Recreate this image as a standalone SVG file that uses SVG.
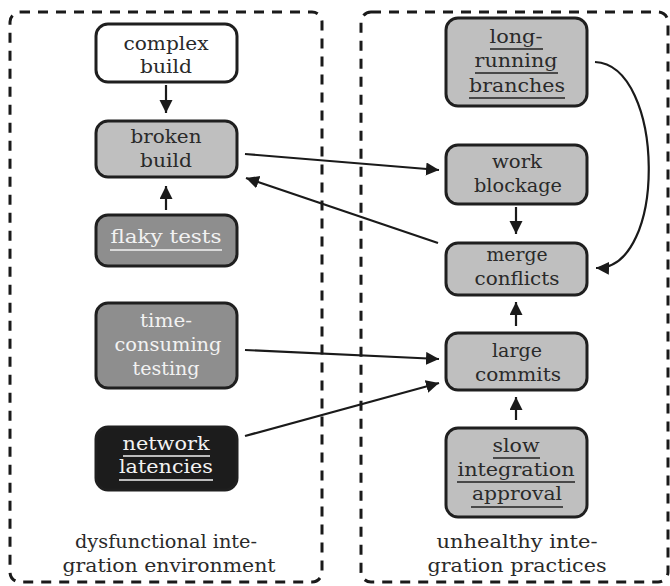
<svg xmlns="http://www.w3.org/2000/svg" width="670" height="586" viewBox="0 0 670 586">
<defs>
<marker id="ah" markerUnits="userSpaceOnUse" markerWidth="15" markerHeight="14" refX="13" refY="6.5" orient="auto"><path d="M0,0 L13,6.5 L0,13 z" fill="#1a1a1a"/></marker>
<style>
.box{fill:none;stroke:#1a1a1a;stroke-width:3;stroke-dasharray:10 8}
.n{stroke:#1f1f1f;stroke-width:3}
.lt{fill:#bfbfbf}.md{fill:#8e8e8e}.dk{fill:#1c1c1c}.wh{fill:#ffffff}
text{font-family:"DejaVu Serif",serif;font-size:19px;text-anchor:middle}
.tb{fill:#2a2a2a}.tw{fill:#f2f2f2}
.ub{stroke:#222;stroke-width:1.5}.uw{stroke:#f2f2f2;stroke-width:1.5}
.c{fill:none;stroke:#1a1a1a;stroke-width:2.2;marker-end:url(#ah)}
</style>
</defs>
<g id="env">
<rect class="box" x="10" y="12" width="312" height="570" rx="10"/>
<text class="tb" x="166" y="548" textLength="182" lengthAdjust="spacingAndGlyphs">dysfunctional inte-</text>
<text class="tb" x="169" y="572" textLength="213" lengthAdjust="spacingAndGlyphs">gration environment</text>
</g>
<g id="practices">
<rect class="box" x="361" y="12" width="307" height="570" rx="10"/>
<text class="tb" x="517" y="548" textLength="161" lengthAdjust="spacingAndGlyphs">unhealthy inte-</text>
<text class="tb" x="517" y="572" textLength="179" lengthAdjust="spacingAndGlyphs">gration practices</text>
</g>
<g id="complex">
<rect class="n wh" x="96" y="24" width="141" height="58" rx="12"/>
<text class="tb" x="166" y="50" textLength="85" lengthAdjust="spacingAndGlyphs">complex</text>
<text class="tb" x="166" y="73" textLength="52" lengthAdjust="spacingAndGlyphs">build</text>
</g>
<g id="broken">
<rect class="n lt" x="96" y="121" width="141" height="56" rx="12"/>
<text class="tb" x="166" y="143" textLength="71" lengthAdjust="spacingAndGlyphs">broken</text>
<text class="tb" x="166" y="167" textLength="52" lengthAdjust="spacingAndGlyphs">build</text>
</g>
<g id="flaky">
<rect class="n md" x="96" y="215" width="141" height="51" rx="12"/>
<text class="tw" x="166" y="243" textLength="111" lengthAdjust="spacingAndGlyphs">flaky tests</text>
<line class="uw" x1="110" y1="250" x2="222" y2="250"/>
</g>
<g id="timeconsuming">
<rect class="n md" x="96" y="303" width="141" height="85" rx="12"/>
<text class="tw" x="166" y="327" textLength="52" lengthAdjust="spacingAndGlyphs">time-</text>
<text class="tw" x="168" y="351" textLength="107" lengthAdjust="spacingAndGlyphs">consuming</text>
<text class="tw" x="166" y="375" textLength="67" lengthAdjust="spacingAndGlyphs">testing</text>
</g>
<g id="network">
<rect class="n dk" x="96" y="427" width="141" height="63" rx="12"/>
<text class="tw" x="166" y="450" textLength="87" lengthAdjust="spacingAndGlyphs">network</text>
<line class="uw" x1="123" y1="456" x2="210" y2="456"/>
<text class="tw" x="166" y="473" textLength="94" lengthAdjust="spacingAndGlyphs">latencies</text>
<line class="uw" x1="119" y1="480" x2="213" y2="480"/>
</g>
<g id="longrunning">
<rect class="n lt" x="446" y="18" width="141" height="88" rx="12"/>
<text class="tb" x="516" y="43" textLength="53" lengthAdjust="spacingAndGlyphs">long-</text>
<line class="ub" x1="490" y1="49" x2="543" y2="49"/>
<text class="tb" x="516" y="67" textLength="83" lengthAdjust="spacingAndGlyphs">running</text>
<line class="ub" x1="475" y1="73" x2="558" y2="73"/>
<text class="tb" x="517" y="92" textLength="96" lengthAdjust="spacingAndGlyphs">branches</text>
<line class="ub" x1="469" y1="98" x2="565" y2="98"/>
</g>
<g id="workblockage">
<rect class="n lt" x="446" y="145" width="141" height="59" rx="12"/>
<text class="tb" x="517" y="168" textLength="50" lengthAdjust="spacingAndGlyphs">work</text>
<text class="tb" x="518" y="192" textLength="88" lengthAdjust="spacingAndGlyphs">blockage</text>
</g>
<g id="merge">
<rect class="n lt" x="446" y="243" width="141" height="52" rx="12"/>
<text class="tb" x="517" y="261" textLength="61" lengthAdjust="spacingAndGlyphs">merge</text>
<text class="tb" x="517" y="285" textLength="85" lengthAdjust="spacingAndGlyphs">conflicts</text>
</g>
<g id="large">
<rect class="n lt" x="446" y="333" width="141" height="57" rx="12"/>
<text class="tb" x="517" y="357" textLength="50" lengthAdjust="spacingAndGlyphs">large</text>
<text class="tb" x="518" y="381" textLength="86" lengthAdjust="spacingAndGlyphs">commits</text>
</g>
<g id="slow">
<rect class="n lt" x="446" y="428" width="141" height="89" rx="12"/>
<text class="tb" x="516" y="452" textLength="47" lengthAdjust="spacingAndGlyphs">slow</text>
<line class="ub" x1="493" y1="458" x2="540" y2="458"/>
<text class="tb" x="516" y="476" textLength="117" lengthAdjust="spacingAndGlyphs">integration</text>
<line class="ub" x1="457" y1="482" x2="575" y2="482"/>
<text class="tb" x="517" y="500" textLength="90" lengthAdjust="spacingAndGlyphs">approval</text>
<line class="ub" x1="471" y1="507" x2="563" y2="507"/>
</g>
<g id="connectors">
<line class="c" x1="166" y1="85" x2="166" y2="113"/>
<line class="c" x1="166" y1="210" x2="166" y2="186"/>
<line class="c" x1="245" y1="154" x2="439" y2="170"/>
<line class="c" x1="438" y1="243" x2="246" y2="178"/>
<line class="c" x1="516" y1="207" x2="516" y2="234"/>
<path class="c" d="M595,62 C665,65 668,270 596,268"/>
<line class="c" x1="245" y1="350" x2="439" y2="359"/>
<line class="c" x1="245" y1="436" x2="439" y2="383"/>
<line class="c" x1="516" y1="326" x2="516" y2="302"/>
<line class="c" x1="516" y1="420" x2="516" y2="397"/>
</g>
</svg>
